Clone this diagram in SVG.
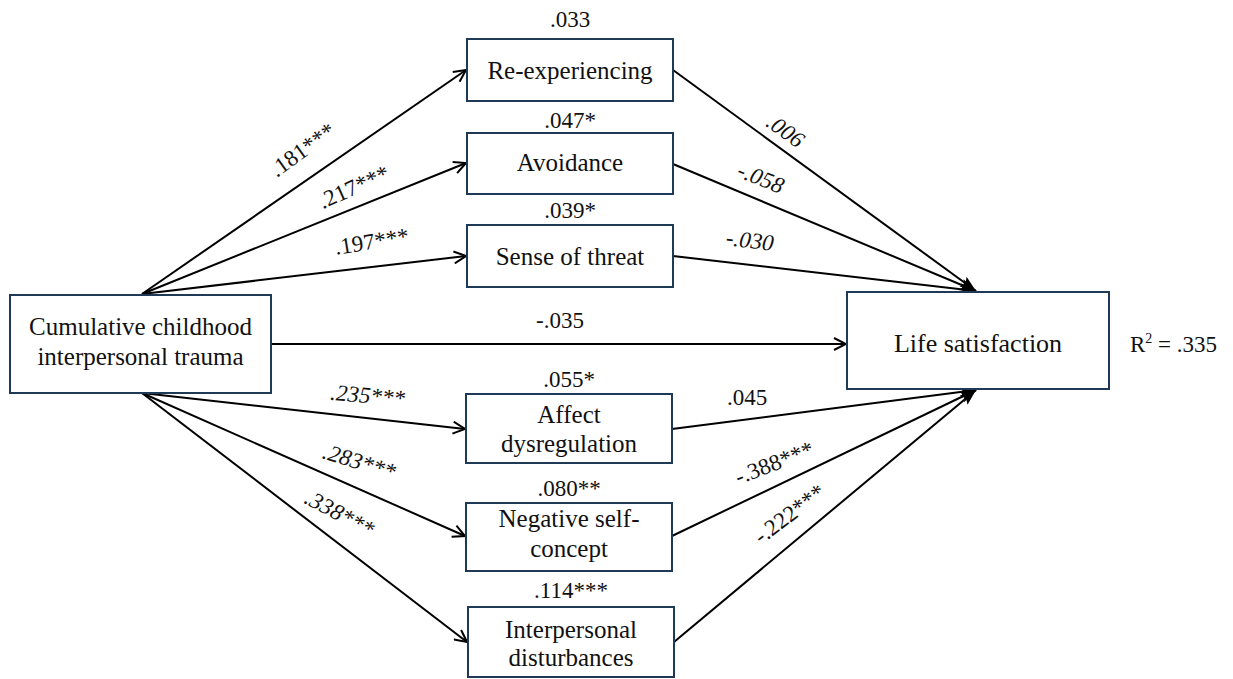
<svg xmlns="http://www.w3.org/2000/svg" width="1233" height="679" viewBox="0 0 1233 679">
<style>
.box{fill:#fff;stroke:#1f3a56;stroke-width:2}
.t{font-family:"Liberation Serif","Times New Roman",serif;font-size:25px;fill:#111;text-anchor:middle}
.c{font-family:"Liberation Serif","Times New Roman",serif;font-size:23px;fill:#111;text-anchor:middle}
.i{font-style:italic}
.ln{stroke:#000;stroke-width:2;fill:none}
</style>
<defs>
<marker id="open" viewBox="0 0 14 14" refX="13" refY="7" markerWidth="14" markerHeight="14" markerUnits="userSpaceOnUse" orient="auto"><path d="M1,1 L13,7 L1,13" fill="none" stroke="#000" stroke-width="2"/></marker>
<marker id="fill" viewBox="0 0 16 14" refX="16" refY="7" markerWidth="16" markerHeight="14" markerUnits="userSpaceOnUse" orient="auto"><path d="M0,1 L16,7 L0,13 L3,7 Z" fill="#000"/></marker>
</defs>
<rect width="1233" height="679" fill="#fff"/>
<g id="connectors">
<line class="ln" x1="142" y1="294" x2="466" y2="70" marker-end="url(#open)"/>
<line class="ln" x1="142" y1="294" x2="466" y2="163" marker-end="url(#open)"/>
<line class="ln" x1="142" y1="294" x2="466" y2="256" marker-end="url(#open)"/>
<line class="ln" x1="142" y1="393" x2="465" y2="429" marker-end="url(#open)"/>
<line class="ln" x1="142" y1="393" x2="465" y2="536" marker-end="url(#open)"/>
<line class="ln" x1="142" y1="393" x2="467" y2="642" marker-end="url(#open)"/>
<line class="ln" x1="271" y1="344" x2="846" y2="344" marker-end="url(#open)"/>
<line class="ln" x1="673" y1="70" x2="976" y2="291" marker-end="url(#fill)"/>
<line class="ln" x1="673" y1="164" x2="976" y2="291" marker-end="url(#fill)"/>
<line class="ln" x1="673" y1="256" x2="976" y2="291" marker-end="url(#fill)"/>
<line class="ln" x1="672" y1="429" x2="976" y2="390" marker-end="url(#fill)"/>
<line class="ln" x1="672" y1="536" x2="976" y2="390" marker-end="url(#fill)"/>
<line class="ln" x1="674" y1="642" x2="976" y2="390" marker-end="url(#fill)"/>
<text class="c" transform="translate(307,156) rotate(-36)">.181***</text>
<text class="c" transform="translate(357,194) rotate(-24)">.217***</text>
<text class="c" transform="translate(373,249) rotate(-9)">.197***</text>
<text class="c" x="560" y="328">-.035</text>
<text class="c i" transform="translate(367,403) rotate(5)">.235***</text>
<text class="c i" transform="translate(357,469) rotate(17)">.283***</text>
<text class="c i" transform="translate(336,520) rotate(28)">.338***</text>
<text class="c i" transform="translate(781,137) rotate(36)">.006</text>
<text class="c i" transform="translate(758,185) rotate(22)">-.058</text>
<text class="c i" transform="translate(749,248) rotate(7)">-.030</text>
<text class="c" x="747" y="405">.045</text>
<text class="c" transform="translate(777,470) rotate(-21)">-.388***</text>
<text class="c" transform="translate(794,520) rotate(-37)">-.222***</text>
</g>
<g id="n_trauma">
<rect class="box" x="10" y="295" width="261" height="98"/>
<text class="t" x="140.5" y="335">Cumulative childhood</text>
<text class="t" x="140.5" y="365">interpersonal trauma</text>
</g>
<g id="n_reexp">
<text class="c" x="570" y="27">.033</text>
<rect class="box" x="467" y="39" width="206" height="62"/>
<text class="t" x="570" y="79">Re-experiencing</text>
</g>
<g id="n_avoid">
<text class="c" x="570" y="128">.047*</text>
<rect class="box" x="467" y="133" width="206" height="61"/>
<text class="t" x="570" y="171">Avoidance</text>
</g>
<g id="n_threat">
<text class="c" x="570" y="218">.039*</text>
<rect class="box" x="467" y="225" width="206" height="62"/>
<text class="t" x="570" y="265">Sense of threat</text>
</g>
<g id="n_affect">
<text class="c" x="569" y="387">.055*</text>
<rect class="box" x="466" y="394" width="206" height="69"/>
<text class="t" x="569" y="423">Affect</text>
<text class="t" x="569" y="452">dysregulation</text>
</g>
<g id="n_negself">
<text class="c" x="569" y="496">.080**</text>
<rect class="box" x="466" y="503" width="206" height="68"/>
<text class="t" x="569" y="527">Negative self-</text>
<text class="t" x="569" y="557">concept</text>
</g>
<g id="n_interp">
<text class="c" x="571" y="598">.114***</text>
<rect class="box" x="468" y="607" width="206" height="70"/>
<text class="t" x="571" y="638">Interpersonal</text>
<text class="t" x="571" y="666">disturbances</text>
</g>
<g id="n_life">
<rect class="box" x="847" y="292" width="262" height="97"/>
<text class="t" x="978" y="352" style="font-size:26px">Life satisfaction</text>
<text class="c" x="1130" y="352" style="text-anchor:start">R<tspan font-size="14" dy="-9">2</tspan><tspan dy="9"> = .335</tspan></text>
</g>
</svg>
